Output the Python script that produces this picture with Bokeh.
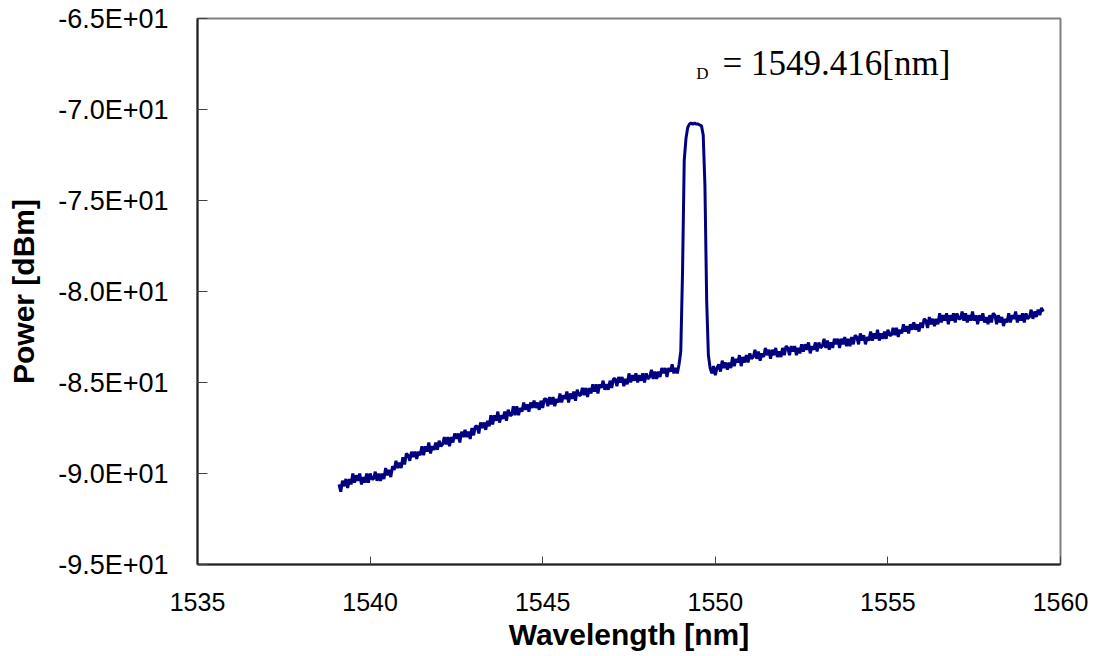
import numpy as np
from bokeh.plotting import figure
from bokeh.models import Range1d, FixedTicker, Label
from bokeh.embed import file_html
from bokeh.resources import INLINE

# ---- data ----
wl_start = 1539.10
wl_end = 1559.50
power_dbm = [
    -90.6,-91.0,-90.4,-90.7,-90.3,-90.8,-90.3,-90.6,-90.0,-90.5,-90.1,-90.4,-90.0,-90.6,-90.2,-90.5,-90.0,-90.5,-90.0,-90.3,
    -90.3,-89.9,-90.4,-90.0,-90.4,-90.0,-90.3,-89.7,-90.1,-89.8,-90.2,-89.6,-89.8,-89.3,-89.7,-89.4,-89.7,-89.1,-89.5,-88.9,
    -89.0,-89.3,-88.8,-89.1,-88.8,-89.2,-88.8,-89.0,-88.5,-89.0,-88.5,-88.8,-88.3,-88.9,-88.5,-88.7,-88.3,-88.7,-88.2,-88.5,
    -88.4,-88.0,-88.4,-88.0,-88.5,-88.0,-88.3,-87.8,-88.1,-87.8,-88.3,-87.7,-88.0,-87.6,-88.0,-87.7,-88.1,-87.5,-87.9,-87.4,
    -87.4,-87.8,-87.2,-87.5,-87.2,-87.6,-87.1,-87.4,-86.8,-87.3,-86.8,-87.1,-86.6,-87.2,-86.8,-87.0,-86.6,-87.1,-86.5,-86.8,
    -86.8,-86.3,-86.8,-86.3,-86.8,-86.4,-86.6,-86.1,-86.5,-86.2,-86.6,-86.1,-86.4,-86.0,-86.4,-86.1,-86.5,-86.0,-86.4,-85.9,
    -85.9,-86.3,-85.8,-86.2,-85.8,-86.3,-85.9,-86.1,-85.6,-86.1,-85.7,-85.9,-85.5,-86.1,-85.6,-85.9,-85.5,-86.0,-85.4,-85.7,
    -85.7,-85.3,-85.7,-85.3,-85.8,-85.3,-85.6,-85.1,-85.5,-85.1,-85.6,-85.1,-85.3,-84.9,-85.4,-85.1,-85.4,-84.9,-85.3,-84.8,
    -84.8,-85.2,-84.7,-85.0,-84.7,-85.2,-84.8,-85.1,-84.5,-85.0,-84.6,-84.9,-84.5,-85.0,-84.6,-84.9,-84.5,-85.0,-84.5,-84.8,
    -84.7,-84.3,-84.8,-84.4,-84.8,-84.4,-84.7,-84.2,-84.5,-84.2,-84.7,-84.2,-84.4,-84.0,-84.5,-84.2,-84.5,-84.0,-83.3,-79.0,
    -72.8,-71.6,-71.0,-70.8,-70.75,-70.8,-70.75,-70.8,-70.8,-70.85,-70.9,-71.4,-74.2,-80.5,-83.5,-84.2,-84.5,-84.1,-84.6,-84.2,
    -84.0,-84.4,-83.8,-84.2,-83.9,-84.3,-83.9,-84.2,-83.6,-84.1,-83.7,-83.9,-83.5,-84.1,-83.6,-83.9,-83.5,-83.9,-83.4,-83.7,
    -83.6,-83.2,-83.7,-83.3,-83.8,-83.4,-83.6,-83.1,-83.5,-83.2,-83.7,-83.2,-83.5,-83.1,-83.6,-83.3,-83.6,-83.1,-83.5,-83.0,
    -83.1,-83.5,-83.0,-83.3,-83.0,-83.5,-83.1,-83.4,-82.9,-83.3,-82.9,-83.2,-82.8,-83.4,-83.0,-83.2,-82.8,-83.3,-82.8,-83.1,
    -83.0,-82.6,-83.1,-82.7,-83.2,-82.8,-83.1,-82.6,-82.9,-82.6,-83.1,-82.6,-82.9,-82.5,-83.0,-82.6,-83.0,-82.5,-82.9,-82.4,
    -82.5,-82.9,-82.3,-82.7,-82.4,-82.9,-82.5,-82.7,-82.2,-82.7,-82.3,-82.6,-82.1,-82.7,-82.3,-82.6,-82.2,-82.6,-82.1,-82.4,
    -82.4,-82.0,-82.4,-82.0,-82.5,-82.1,-82.3,-81.8,-82.2,-81.9,-82.3,-81.8,-82.1,-81.7,-82.1,-81.8,-82.2,-81.7,-82.0,-81.5,
    -81.6,-82.0,-81.4,-81.8,-81.5,-81.9,-81.5,-81.8,-81.2,-81.7,-81.3,-81.6,-81.2,-81.8,-81.3,-81.6,-81.2,-81.7,-81.2,-81.5,
    -81.5,-81.1,-81.6,-81.2,-81.7,-81.3,-81.6,-81.1,-81.6,-81.3,-81.8,-81.3,-81.6,-81.2,-81.7,-81.4,-81.8,-81.3,-81.7,-81.2,
    -81.3,-81.8,-81.3,-81.7,-81.4,-81.9,-81.5,-81.7,-81.2,-81.7,-81.3,-81.5,-81.1,-81.7,-81.3,-81.6,-81.2,-81.7,-81.2,-81.5,
    -81.4,-81.0,-81.5,-81.1,-81.4,-81.0,-81.3,-80.9,-81.1,
]
wavelength_nm = np.linspace(wl_start, wl_end, len(power_dbm))

x_ticks = [1535, 1540, 1545, 1550, 1555, 1560]
y_ticks = [-95, -90, -85, -80, -75, -70, -65]
y_tick_labels = ["-9.5E+01", "-9.0E+01", "-8.5E+01", "-8.0E+01", "-7.5E+01", "-7.0E+01", "-6.5E+01"]
peak_sub = "D"
peak_text = "= 1549.416[nm]"

# ---- figure ----
p = figure(width=1090, height=654, output_backend="svg", toolbar_location=None,
           x_range=Range1d(1535, 1560), y_range=Range1d(-95, -65),
           min_border_left=197, min_border_right=30, min_border_top=18, min_border_bottom=90)
p.background_fill_color = "white"
p.border_fill_color = "white"
p.outline_line_color = "#808080"
p.outline_line_width = 2
p.xgrid.visible = False
p.ygrid.visible = False

p.line(wavelength_nm, power_dbm, line_color="#000080", line_width=3)

font = "Liberation Sans"
# x axis
xa = p.xaxis[0]
xa.ticker = FixedTicker(ticks=x_ticks)
xa.minor_tick_line_color = None
xa.major_tick_in = 8
xa.major_tick_out = 0
xa.axis_line_color = "#202020"
xa.axis_line_width = 2
xa.major_tick_line_color = "#404040"
xa.major_label_text_font = font
xa.major_label_text_font_size = "25px"
xa.major_label_text_color = "black"
xa.major_label_standoff = 28
xa.axis_label = "Wavelength [nm]"
xa.axis_label_text_font = font
xa.axis_label_text_font_style = "bold"
xa.axis_label_text_font_size = "30px"
xa.axis_label_text_color = "black"
xa.axis_label_standoff = 4

# y axis
ya = p.yaxis[0]
ya.ticker = FixedTicker(ticks=y_ticks)
ya.major_label_overrides = dict(zip(y_ticks, y_tick_labels))
ya.minor_tick_line_color = None
ya.major_tick_in = 10
ya.major_tick_out = 0
ya.axis_line_color = "#202020"
ya.axis_line_width = 2
ya.major_tick_line_color = "#404040"
ya.major_label_text_font = font
ya.major_label_text_font_size = "27px"
ya.major_label_text_color = "black"
ya.major_label_standoff = 29
ya.axis_label = "Power [dBm]"
ya.axis_label_text_font = font
ya.axis_label_text_font_style = "bold"
ya.axis_label_text_font_size = "30px"
ya.axis_label_text_color = "black"
ya.axis_label_standoff = 15

# annotation
p.add_layout(Label(x=1549.45, y=-68.03, text=peak_sub, text_font="Liberation Serif",
                   text_font_size="17px", text_color="black", text_baseline="alphabetic"))
p.add_layout(Label(x=1550.21, y=-67.45, text=peak_text, text_font="Liberation Serif",
                   text_font_size="35px", text_color="black", text_baseline="alphabetic"))

open("out.html", "w").write(file_html(p, INLINE))
